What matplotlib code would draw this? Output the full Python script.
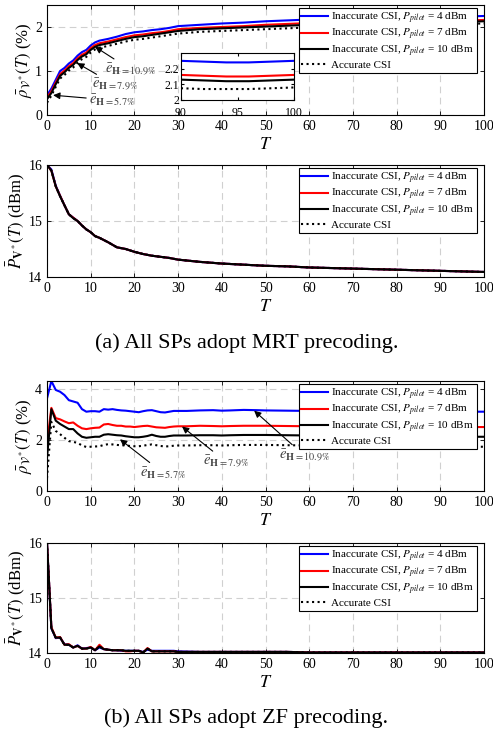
import numpy as np
import matplotlib
matplotlib.use("Agg")
import matplotlib.pyplot as plt

plt.rcParams['font.family'] = ['Liberation Serif', 'DejaVu Serif']
plt.rcParams['mathtext.fontset'] = 'stix'

# =====================================================
# Data
# =====================================================
labels = [r"Inaccurate CSI, $P_{pilot}$ = 4 dBm",
          r"Inaccurate CSI, $P_{pilot}$ = 7 dBm",
          r"Inaccurate CSI, $P_{pilot}$ = 10 dBm",
          "Accurate CSI"]
colors = ["#0000ff", "#ff0000", "#000000", "#000000"]
styles = ["-", "-", "-", ":"]

# (a) MRT, average outage ratio (%)
T_mrt = [0, 1, 2, 3, 4, 5, 6, 7, 8, 9, 10, 11, 12,
         14, 16, 18, 20, 22, 24, 26, 28, 30,
         35, 40, 45, 50, 55, 60, 65, 70, 75, 80, 85,
         90, 92, 94, 96, 98, 100]
rho_mrt_4 = [0.45, 0.60, 0.80, 1.00, 1.07, 1.17, 1.24, 1.35, 1.43, 1.48, 1.58, 1.65, 1.69,
             1.73, 1.78, 1.84, 1.88, 1.90, 1.93, 1.95, 1.98, 2.02,
             2.05, 2.08, 2.10, 2.13, 2.15, 2.17, 2.18, 2.19, 2.20, 2.22, 2.23,
             2.25, 2.245, 2.24, 2.24, 2.245, 2.25]
rho_mrt_7 = [0.40, 0.54, 0.74, 0.93, 1.01, 1.11, 1.18, 1.29, 1.37, 1.42, 1.52, 1.59, 1.63,
             1.67, 1.72, 1.77, 1.81, 1.83, 1.86, 1.88, 1.91, 1.95,
             1.98, 2.00, 2.02, 2.05, 2.07, 2.09, 2.10, 2.11, 2.12, 2.13, 2.14,
             2.16, 2.155, 2.15, 2.15, 2.155, 2.16]
rho_mrt_10 = [0.36, 0.50, 0.70, 0.89, 0.97, 1.07, 1.14, 1.25, 1.33, 1.38, 1.48, 1.55, 1.59,
              1.63, 1.68, 1.73, 1.77, 1.79, 1.82, 1.85, 1.88, 1.91,
              1.95, 1.97, 1.99, 2.01, 2.03, 2.05, 2.06, 2.07, 2.08, 2.10, 2.11,
              2.13, 2.125, 2.12, 2.12, 2.125, 2.13]
rho_mrt_acc = [0.28, 0.44, 0.64, 0.83, 0.91, 1.01, 1.08, 1.19, 1.27, 1.32, 1.42, 1.49, 1.53,
               1.57, 1.62, 1.67, 1.71, 1.73, 1.76, 1.79, 1.82, 1.85,
               1.89, 1.91, 1.93, 1.95, 1.97, 1.99, 2.00, 2.01, 2.02, 2.04, 2.05,
               2.075, 2.07, 2.07, 2.07, 2.075, 2.08]

# (a) MRT, average transmit power (dBm)
T_pmrt = [0, 1, 2, 3, 4, 5, 6, 7, 8, 9, 10, 11, 12,
          14, 16, 18, 20, 22, 24, 26, 28, 30,
          35, 40, 45, 50, 55, 60, 65, 70, 75, 80, 85, 90, 95, 100]
p_mrt_4 = [16.0, 15.92, 15.63, 15.45, 15.28, 15.12, 15.06, 15.0, 14.92, 14.85, 14.8, 14.73, 14.7,
           14.62, 14.53, 14.5, 14.45, 14.41, 14.38, 14.36, 14.34, 14.31,
           14.27, 14.24, 14.22, 14.2, 14.19, 14.17, 14.16, 14.15, 14.14, 14.13, 14.12, 14.11, 14.1, 14.09]
p_mrt_7 = [16.0, 15.9, 15.62, 15.45, 15.28, 15.12, 15.06, 15.0, 14.92, 14.85, 14.8, 14.73, 14.7,
           14.62, 14.53, 14.5, 14.45, 14.41, 14.38, 14.36, 14.34, 14.31,
           14.27, 14.24, 14.22, 14.2, 14.19, 14.17, 14.16, 14.15, 14.14, 14.13, 14.12, 14.11, 14.1, 14.09]
p_mrt_10 = [16.0, 15.9, 15.62, 15.44, 15.28, 15.12, 15.05, 15.0, 14.92, 14.85, 14.8, 14.73, 14.7,
            14.62, 14.53, 14.5, 14.45, 14.41, 14.38, 14.36, 14.34, 14.31,
            14.27, 14.24, 14.22, 14.2, 14.19, 14.17, 14.16, 14.15, 14.14, 14.13, 14.12, 14.11, 14.1, 14.09]
p_mrt_acc = [16.0, 15.9, 15.62, 15.44, 15.28, 15.12, 15.05, 15.0, 14.92, 14.85, 14.8, 14.73, 14.7,
             14.62, 14.53, 14.5, 14.45, 14.41, 14.38, 14.36, 14.34, 14.31,
             14.27, 14.24, 14.22, 14.2, 14.19, 14.17, 14.16, 14.15, 14.14, 14.13, 14.12, 14.11, 14.1, 14.09]

# (b) ZF, average outage ratio (%)
T_zf = list(range(0, 31)) + [32, 35, 38, 40, 42, 45, 48, 50, 55, 60, 65, 70, 75, 80, 85, 90, 95, 100]
rho_zf_4 = [3.62, 4.30, 3.95, 3.88, 3.75, 3.55, 3.50, 3.45, 3.20, 3.10, 3.12, 3.12, 3.10, 3.20, 3.18,
            3.20, 3.17, 3.15, 3.14, 3.12, 3.10, 3.08, 3.12, 3.15, 3.16, 3.12, 3.08, 3.07, 3.10, 3.13, 3.13,
            3.13, 3.15, 3.16, 3.14, 3.15, 3.17, 3.16, 3.15, 3.14, 3.13, 3.13, 3.12, 3.12, 3.11, 3.12, 3.11, 3.10, 3.10]
rho_zf_7 = [1.85, 3.25, 2.85, 2.80, 2.72, 2.65, 2.68, 2.55, 2.45, 2.42, 2.45, 2.47, 2.48, 2.60, 2.62,
            2.58, 2.55, 2.55, 2.52, 2.52, 2.50, 2.52, 2.54, 2.55, 2.52, 2.49, 2.48, 2.47, 2.50, 2.52, 2.53,
            2.53, 2.55, 2.54, 2.53, 2.54, 2.55, 2.55, 2.55, 2.54, 2.53, 2.53, 2.52, 2.52, 2.52, 2.52, 2.51, 2.50, 2.50]
rho_zf_10 = [1.30, 3.20, 2.75, 2.62, 2.52, 2.42, 2.42, 2.25, 2.12, 2.08, 2.10, 2.12, 2.12, 2.20, 2.22,
             2.20, 2.18, 2.17, 2.14, 2.12, 2.10, 2.10, 2.12, 2.15, 2.20, 2.15, 2.12, 2.12, 2.15, 2.17, 2.17,
             2.17, 2.18, 2.18, 2.17, 2.18, 2.19, 2.19, 2.19, 2.18, 2.17, 2.16, 2.15, 2.15, 2.14, 2.14, 2.13, 2.12, 2.12]
rho_zf_acc = [0.50, 2.70, 2.35, 2.22, 2.08, 1.95, 1.92, 1.88, 1.78, 1.72, 1.73, 1.74, 1.75, 1.80, 1.83,
              1.82, 1.80, 1.79, 1.78, 1.76, 1.75, 1.75, 1.77, 1.80, 1.82, 1.79, 1.76, 1.74, 1.75, 1.77, 1.78,
              1.78, 1.79, 1.79, 1.78, 1.79, 1.80, 1.80, 1.80, 1.79, 1.78, 1.77, 1.76, 1.76, 1.75, 1.75, 1.74, 1.73, 1.73]

# (b) ZF, average transmit power (dBm)
T_pzf = list(range(0, 31)) + [35, 40, 45, 50, 55, 60, 65, 70, 75, 80, 85, 90, 95, 100]
p_zf_4 = [16.0, 14.45, 14.27, 14.28, 14.16, 14.15, 14.1, 14.14, 14.08, 14.09, 14.1, 14.05, 14.1, 14.07, 14.06,
          14.05, 14.05, 14.04, 14.04, 14.04, 14.04, 14.04, 14.02, 14.06, 14.04, 14.04, 14.04, 14.04, 14.04, 14.04, 14.03,
          14.02, 14.02, 14.02, 14.02, 14.02, 14.01, 14.01, 14.01, 14.01, 14.01, 14.01, 14.01, 14.01, 14.01]
p_zf_7 = [16.0, 14.47, 14.28, 14.29, 14.15, 14.16, 14.1, 14.13, 14.08, 14.08, 14.11, 14.05, 14.15, 14.07, 14.06,
          14.05, 14.05, 14.05, 14.03, 14.03, 14.04, 14.04, 14.01, 14.09, 14.03, 14.03, 14.03, 14.03, 14.03, 14.03, 14.02,
          14.02, 14.02, 14.02, 14.02, 14.02, 14.01, 14.01, 14.01, 14.01, 14.01, 14.01, 14.01, 14.01, 14.01]
p_zf_10 = [16.0, 14.45, 14.28, 14.28, 14.15, 14.15, 14.1, 14.13, 14.08, 14.08, 14.1, 14.05, 14.12, 14.07, 14.06,
           14.05, 14.05, 14.05, 14.04, 14.04, 14.04, 14.04, 14.01, 14.08, 14.03, 14.03, 14.03, 14.03, 14.03, 14.03, 14.02,
           14.02, 14.02, 14.02, 14.02, 14.02, 14.01, 14.01, 14.01, 14.01, 14.01, 14.01, 14.01, 14.01, 14.01]
p_zf_acc = [16.0, 14.45, 14.28, 14.28, 14.15, 14.15, 14.1, 14.13, 14.08, 14.08, 14.1, 14.05, 14.12, 14.07, 14.06,
            14.05, 14.05, 14.05, 14.04, 14.04, 14.04, 14.04, 14.01, 14.08, 14.03, 14.03, 14.03, 14.03, 14.03, 14.03, 14.02,
            14.02, 14.02, 14.02, 14.02, 14.02, 14.01, 14.01, 14.01, 14.01, 14.01, 14.01, 14.01, 14.01, 14.01]

W, H = 493, 734
AX_W = 437


def px_axes(fig, left, right, top, bottom):
    return fig.add_axes([left / W, 1 - bottom / H, (right - left) / W, (bottom - top) / H])


def style_axes(ax, ylim, yticks):
    ax.set_xlim(0, 100)
    ax.set_ylim(*ylim)
    ax.set_xticks(np.arange(0, 101, 10))
    ax.set_yticks(yticks)
    ax.grid(True, linestyle=(0, (6, 4)), color="#d0d0d0", linewidth=0.8)
    ax.tick_params(direction="in", top=True, right=True, labelsize=10, length=3, width=0.6)
    for s in ax.spines.values():
        s.set_linewidth(0.8)
    ax.set_xlabel(r"$T$", fontsize=13, labelpad=2)


def draw_series(ax, T, series, ax_h):
    for y, c, ls, lab in zip(series, colors, styles, labels):
        ax.plot(T, y, color=c, linestyle=ls, linewidth=1.5, label=lab)
    leg = ax.legend(loc="upper right", bbox_to_anchor=(1 - 7 / AX_W, 1 - 3 / ax_h),
                    borderaxespad=0, fontsize=8, fancybox=False, framealpha=1,
                    edgecolor="black", handlelength=2.4, borderpad=0.25, labelspacing=0.12,
                    handletextpad=0.3)
    leg.get_frame().set_linewidth(0.8)


def annotate(ax, text, tip, txt):
    ax.annotate(text, xy=tip, xytext=txt, fontsize=10.5, color="#444444",
                arrowprops=dict(arrowstyle="-|>", color="black", lw=0.8,
                                mutation_scale=10, shrinkA=0, shrinkB=0))


fig = plt.figure(figsize=(W / 100, H / 100), dpi=100)

# ---------------- (a) MRT outage ----------------
ax1 = px_axes(fig, 47, 484, 5, 115)
draw_series(ax1, T_mrt, [rho_mrt_4, rho_mrt_7, rho_mrt_10, rho_mrt_acc], 110)
style_axes(ax1, (0, 2.5), [0, 1, 2])
ax1.set_ylabel(r"$\bar{\rho}_{\mathcal{V}^*}(T)$ (%)", fontsize=12, labelpad=1)
annotate(ax1, r"$\bar{e}_{\mathbf{H}=10.9\%}$", (11, 1.55), (13.3, 0.95))
annotate(ax1, r"$\bar{e}_{\mathbf{H}=7.9\%}$", (6.9, 1.18), (10.3, 0.6))
annotate(ax1, r"$\bar{e}_{\mathbf{H}=5.7\%}$", (1.4, 0.45), (9.6, 0.25))

ins = ax1.inset_axes([(181 - 47) / AX_W, (115 - 100) / 110, 113 / AX_W, 47 / 110])
for y, c, ls in zip([rho_mrt_4, rho_mrt_7, rho_mrt_10, rho_mrt_acc], colors, styles):
    ins.plot(T_mrt, y, color=c, linestyle=ls, linewidth=1.5)
ins.set_xlim(90, 100)
ins.set_ylim(2, 2.3)
ins.set_xticks([90, 95, 100])
ins.set_yticks([2, 2.1, 2.2])
ins.set_yticklabels(["2", "2.1", "2.2"])
ins.tick_params(direction="in", top=True, right=True, labelsize=8.5, length=2, pad=1)
ins.tick_params(axis="x", pad=5)
ins.set_facecolor("white")

# ---------------- (a) MRT power ----------------
ax2 = px_axes(fig, 47, 484, 165, 277)
draw_series(ax2, T_pmrt, [p_mrt_4, p_mrt_7, p_mrt_10, p_mrt_acc], 112)
style_axes(ax2, (14, 16), [14, 15, 16])
ax2.set_ylabel(r"$\bar{P}_{\mathbf{V}^*}(T)$ (dBm)", fontsize=12, labelpad=1)

fig.text(0.5, 1 - 343 / H, "(a) All SPs adopt MRT precoding.", ha="center", va="center", fontsize=16)

# ---------------- (b) ZF outage ----------------
ax3 = px_axes(fig, 47, 484, 381, 491)
draw_series(ax3, T_zf, [rho_zf_4, rho_zf_7, rho_zf_10, rho_zf_acc], 110)
style_axes(ax3, (0, 4.3), [0, 2, 4])
ax3.set_ylabel(r"$\bar{\rho}_{\mathcal{V}^*}(T)$ (%)", fontsize=12, labelpad=1)
annotate(ax3, r"$\bar{e}_{\mathbf{H}=5.7\%}$", (16.7, 2.02), (21.3, 0.55))
annotate(ax3, r"$\bar{e}_{\mathbf{H}=7.9\%}$", (30.9, 2.52), (35.7, 1.0))
annotate(ax3, r"$\bar{e}_{\mathbf{H}=10.9\%}$", (47.4, 3.14), (53, 1.25))

# ---------------- (b) ZF power ----------------
ax4 = px_axes(fig, 47, 484, 543, 653)
draw_series(ax4, T_pzf, [p_zf_4, p_zf_7, p_zf_10, p_zf_acc], 110)
style_axes(ax4, (14, 16), [14, 15, 16])
ax4.set_ylabel(r"$\bar{P}_{\mathbf{V}^*}(T)$ (dBm)", fontsize=12, labelpad=1)

fig.text(0.5, 1 - 718 / H, "(b) All SPs adopt ZF precoding.", ha="center", va="center", fontsize=16)

fig.savefig("out.png", dpi=100)
